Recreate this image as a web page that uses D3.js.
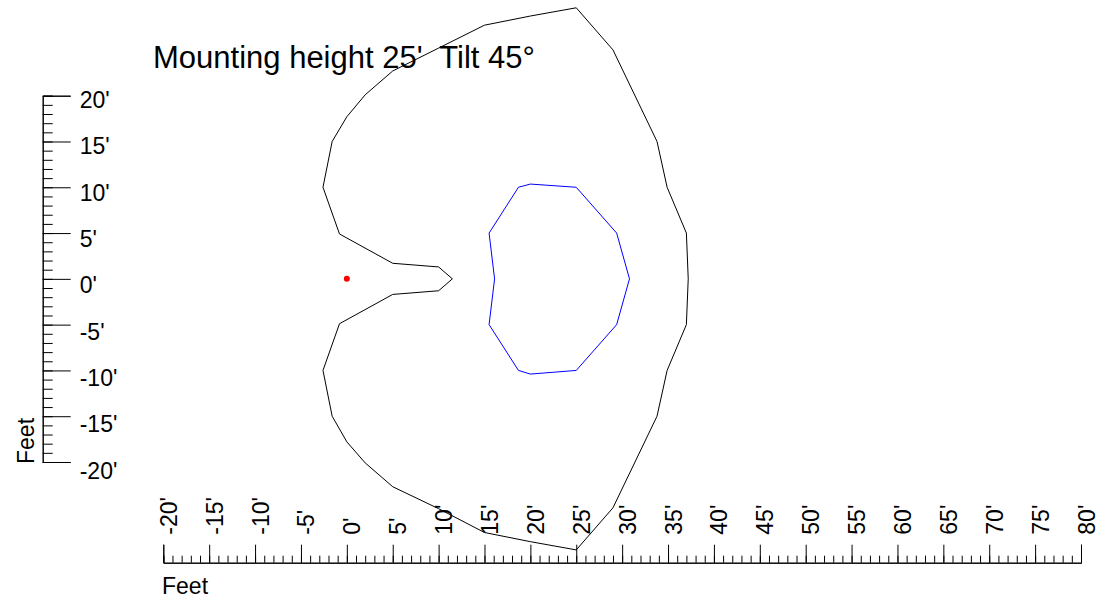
<!DOCTYPE html>
<html>
<head>
<meta charset="utf-8">
<script src="https://cdn.jsdelivr.net/npm/d3@7"></script>
<style>
body { margin: 0; background: #fff; }
text { font-family: "Liberation Sans", Arial, sans-serif; fill: #000; }
</style>
</head>
<body>
<script>
// outer contour (feet), clockwise from the top
var outerX = [25, 20, 15, 10, 5, 2, 0, -1.6, -2.6, -0.8, 5, 10, 11.5, 10, 5, -0.8, -2.6, -1.6, 0, 2, 5, 10, 15, 20, 25, 29, 33.8, 34.9, 37, 37.2, 37, 34.9, 33.8, 29, 25];
var outerY = [29.6, 28.7, 27.7, 25.2, 22.7, 20.1, 17.7, 15, 10, 4.9, 1.7, 1.3, 0, -1.3, -1.7, -4.9, -10, -15, -17.8, -20.1, -22.7, -25.1, -27.7, -28.7, -29.6, -25, -15, -10, -5, 0, 5, 10, 15, 25, 29.6];
// inner contour
var innerX = [20, 25, 29.4, 30.8, 29.4, 25, 20, 18.7, 15.5, 16.1, 15.5, 18.7, 20];
var innerY = [10.35, 10, 5, 0, -5, -10, -10.4, -10, -5, 0, 5, 10, 10.35];
// luminaire position
var poleX = [0];
var poleY = [0];

var xMajor = d3.range(-20, 81, 5);
var xMinor = d3.range(-20, 81, 1);
var yMajor = d3.range(-20, 21, 5);
var yMinor = d3.range(-20, 21, 1);

var title = "Mounting height 25'  Tilt 45°";

var width = 1113;
var height = 602;
var svg = d3.select("body")
    .append("svg")
    .attr("width", width)
    .attr("height", height);

var x = d3.scaleLinear().domain([-20, 80]).range([163.3, 1081]);
var y = d3.scaleLinear().domain([-20, 20]).range([462, 95.7]);
// the y labels drift a little below their ticks towards the bottom
var yLab = d3.scaleLinear().domain([-20, 20]).range([471, 100]);

function ft(d) { return String(d) + "'"; }

// contours
var line = d3.line()
    .x(function(d) { return x(d[0]); })
    .y(function(d) { return y(d[1]); });

svg.append("path")
    .datum(d3.zip(outerX, outerY))
    .attr("d", line)
    .style("fill", "none")
    .style("stroke", "#000")
    .style("stroke-width", 1);

svg.append("path")
    .datum(d3.zip(innerX, innerY))
    .attr("d", line)
    .style("fill", "none")
    .style("stroke", "#0000ff")
    .style("stroke-width", 1);

svg.selectAll("circle.pole")
    .data(d3.zip(poleX, poleY))
    .enter()
    .append("circle")
    .attr("class", "pole")
    .attr("cx", function(d) { return x(d[0]); })
    .attr("cy", function(d) { return y(d[1]); })
    .attr("r", 3)
    .style("fill", "#ff0000");

// y axis: minor ticks, then major ticks with labels
var yAxisG = svg.append("g").attr("transform", "translate(42.7,0)");
yAxisG.append("g")
    .call(d3.axisRight(y).tickValues(yMinor).tickSize(10).tickFormat(""));
yAxisG.append("g")
    .attr("class", "ymajor")
    .call(d3.axisRight(y).tickValues(yMajor).tickSize(28).tickPadding(9).tickFormat(ft));
yAxisG.selectAll(".ymajor .tick text")
    .attr("y", function(d) { return yLab(d) - y(d); })
    .style("font-size", "23px")
    .style("font-family", "'Liberation Sans', Arial, sans-serif");

// x axis: ticks pointing up, rotated labels
var xAxisG = svg.append("g").attr("transform", "translate(0,562.7)");
xAxisG.append("g")
    .call(d3.axisTop(x).tickValues(xMinor).tickSize(7).tickFormat(""));
xAxisG.append("g")
    .call(d3.axisTop(x).tickValues(xMajor).tickSize(18).tickFormat(ft));
xAxisG.selectAll("text")
    .attr("x", 0)
    .attr("y", 0)
    .attr("dy", 0)
    .attr("transform", "translate(13,-28) rotate(-90)")
    .style("text-anchor", "start")
    .style("font-size", "23px")
    .style("font-family", "'Liberation Sans', Arial, sans-serif");

svg.selectAll(".domain").style("stroke", "#000");
svg.selectAll(".tick line").style("stroke", "#000");

// axis titles
svg.append("text")
    .attr("x", 162)
    .attr("y", 594)
    .style("font-size", "23px")
    .text("Feet");

svg.append("text")
    .attr("transform", "translate(34,464) rotate(-90)")
    .style("font-size", "23px")
    .text("Feet");

svg.append("text")
    .attr("x", 153)
    .attr("y", 68)
    .style("font-size", "31px")
    .style("white-space", "pre")
    .text(title);
</script>
</body>
</html>
